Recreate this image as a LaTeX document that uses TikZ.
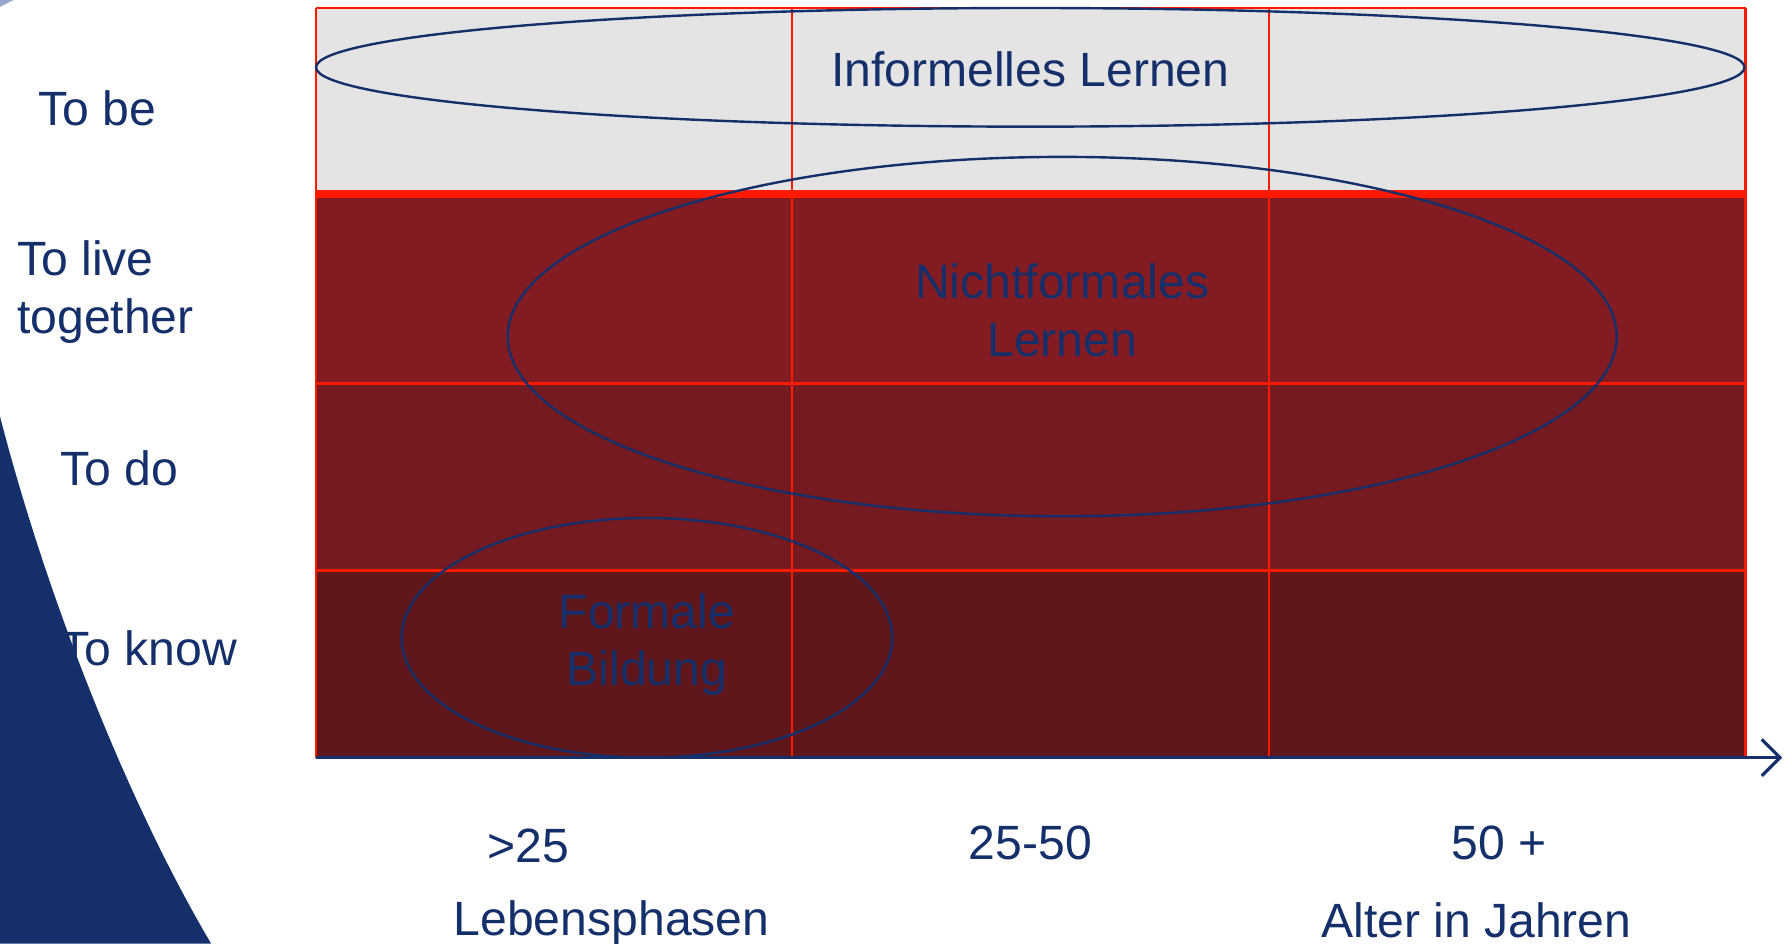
\documentclass[tikz,border=0pt]{standalone}
\usepackage{fontspec}
\setmainfont{Liberation Sans}
\usetikzlibrary{arrows.meta}
\definecolor{navy}{HTML}{142F6A}
\definecolor{gridred}{HTML}{FF1A00}
\definecolor{lightgray}{HTML}{E4E4E4}
\definecolor{rowtwo}{HTML}{831C22}
\definecolor{rowthree}{HTML}{751A20}
\definecolor{rowfour}{HTML}{60171B}
\definecolor{paleblue}{HTML}{9AA8CC}
\tikzset{
	label/.style={text=navy, font=\fontsize{12}{14.3}\selectfont, inner sep=0pt},
	rowlabel/.style={label, anchor=west, align=left},
	circle line/.style={draw=navy, line width=0.6pt}
}
\begin{document}
\begin{tikzpicture}[line width=0.6pt]
		\useasboundingbox (0,0) rectangle (15.68,8.27);
		% background shape
		\fill[navy] (0,4.62) .. controls (0.40,3.07) and (1.10,1.27) .. (1.85,0) -- (0,0) -- cycle;
		\fill[paleblue] (0,8.27) -- (0.12,8.27) -- (0,8.21) -- cycle;
		% rows
		\fill[lightgray] (2.77,6.57) rectangle (15.30,8.20);
		\fill[rowtwo] (2.77,4.91) rectangle (15.30,6.57);
		\fill[rowthree] (2.77,3.27) rectangle (15.30,4.91);
		\fill[rowfour] (2.77,1.63) rectangle (15.30,3.27);
		% grid
		\foreach \x in {2.77, 6.94, 11.12, 15.30} {
			\draw[gridred] (\x,1.63) -- (\x,8.20);
		}
		\foreach \y in {3.27, 4.91, 8.20} {
			\draw[gridred] (2.77,\y) -- (15.30,\y);
		}
		\draw[gridred, line width=2pt] (2.77,6.57) -- (15.30,6.57);
		% learning areas
		\draw[circle line] (9.03,7.68) ellipse [x radius=6.26, y radius=0.52];
		\draw[circle line] (9.31,5.32) ellipse [x radius=4.86, y radius=1.575];
		\draw[circle line] (5.67,2.68) ellipse [x radius=2.15, y radius=1.05];
		\node[label] (informell) at (9.03,7.66) {Informelles Lernen};
		\node[label, align=center] (nichtformal) at (9.31,5.55) {Nichtformales\\Lernen};
		\node[label, align=center] (formal) at (5.67,2.62) {Formale\\Bildung};
		% row labels
		\node[rowlabel] (tobe) at (0.33,7.32) {To be};
		\node[rowlabel] (tolive) at (0.14,5.71) {To live\\together};
		\node[rowlabel] (todo) at (0.52,4.17) {To do};
		\node[rowlabel] (toknow) at (0.52,2.59) {To know};
		% axis
		\coordinate (origin) at (2.77,1.63);
		\coordinate (axisend) at (15.62,1.63);
		\draw[navy, line width=0.8pt, -{Straight Barb[length=1.6mm, width=3.2mm]}] (origin) -- (axisend);
		\node[label] (young) at (4.63,0.86) {>25};
		\node[label] (middle) at (9.03,0.88) {25-50};
		\node[label] (old) at (13.14,0.88) {50 +};
		\node[label] (phasen) at (5.36,0.18) {Lebensphasen};
		\node[label] (alter) at (12.94,0.20) {Alter in Jahren};
	\end{tikzpicture}
\end{document}
